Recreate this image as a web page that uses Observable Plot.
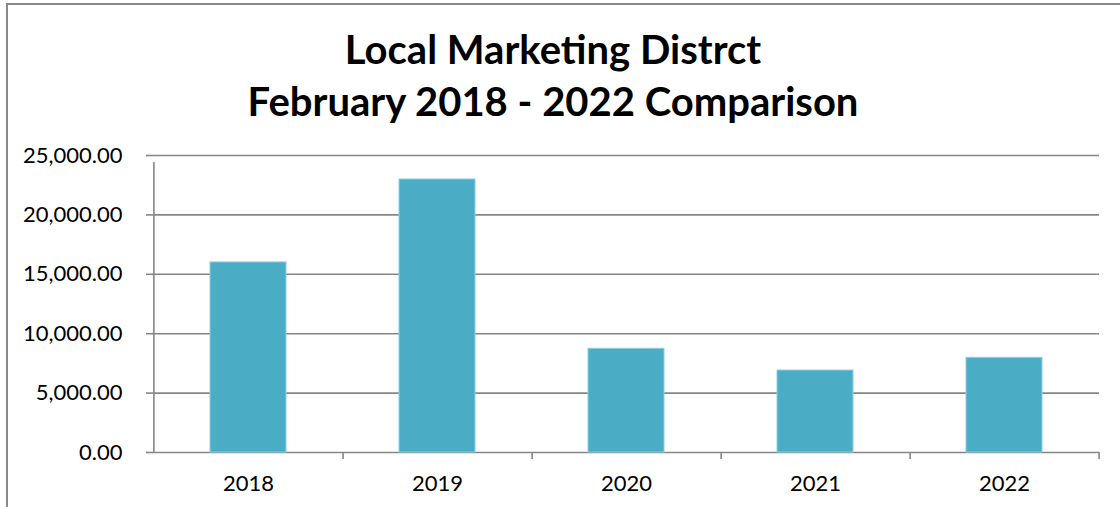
<!DOCTYPE html>
<html>
<head>
<meta charset="utf-8">
<script src="https://cdn.jsdelivr.net/npm/d3@7"></script>
<script src="https://cdn.jsdelivr.net/npm/@observablehq/plot@0.6"></script>
<style>
  html, body { margin: 0; padding: 0; background: #fff; }
  #wrap { position: relative; width: 1120px; height: 507px; overflow: hidden; background: #fff; font-family: Lato, "Open Sans", sans-serif; }
  #border { position: absolute; left: 6px; top: 3px; width: 1120px; height: 510px; border-left: 2px solid #8a8a8a; border-top: 2px solid #8a8a8a; z-index: 2; pointer-events: none; }
  #title { position: absolute; left: 7px; width: 1092px; top: 23px; text-align: center; font-weight: 700; font-size: 40px; line-height: 52px; color: #000; }
  #chart { position: absolute; left: 0; top: 135px; }
</style>
</head>
<body>
<div id="wrap">
  <div id="border"></div>
  <div id="title">Local Marketing Distrct<br>February 2018 - 2022 Comparison</div>
  <div id="chart"></div>
</div>
<script>
const years = ["2018", "2019", "2020", "2021", "2022"];
const values = [16000, 22980, 8730, 6900, 7970];
const yTicks = [0, 5000, 10000, 15000, 20000, 25000];
const yDomain = [0, 25000];

const data = years.map((year, i) => ({year, value: values[i]}));

const W = 1120, H = 372, mL = 153, mR = 21, mT = 20, mB = 55;
const step = (W - mL - mR) / years.length;
const gray = "#868686";

const chart = Plot.plot({
  width: W,
  height: H,
  marginLeft: mL,
  marginRight: mR,
  marginTop: mT,
  marginBottom: mB,
  style: {fontFamily: "Lato, 'Open Sans', sans-serif", fontSize: "22px", color: "#000", background: "transparent"},
  x: {type: "band", domain: years, paddingInner: 0.6, paddingOuter: 0.3, label: null},
  y: {domain: yDomain, label: null},
  marks: [
    Plot.gridY(yTicks, {stroke: gray, strokeOpacity: 1, strokeWidth: 1.6}),
    Plot.axisY(yTicks, {tickSize: 7, tickPadding: 24, stroke: gray, strokeWidth: 1.6, fill: "#000", fontSize: 22, tickFormat: d3.format(",.2f"), label: null}),
    Plot.barY(data, {x: "year", y: "value", fill: "#4BACC6", stroke: "#8ccfdf", strokeWidth: 1}),
    Plot.ruleX([years[0]], {x: d => d, dx: -step / 2, y1: yDomain[0], y2: yDomain[1], insetBottom: -7, stroke: gray, strokeWidth: 1.6}),
    Plot.ruleX(years, {x: d => d, dx: step / 2, y1: yDomain[0], y2: yDomain[0], insetBottom: -7, stroke: gray, strokeWidth: 1.6}),
    Plot.axisX({tickSize: 0, tickPadding: 23, fontSize: 22, fill: "#000", label: null})
  ]
});
document.getElementById("chart").appendChild(chart);
</script>
</body>
</html>
